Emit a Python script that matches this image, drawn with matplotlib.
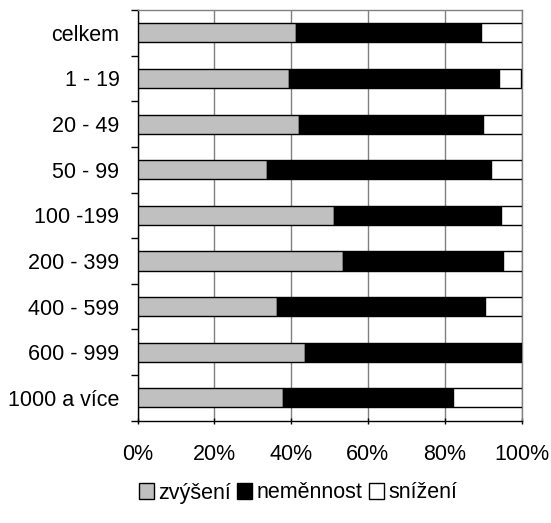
import matplotlib
matplotlib.use("Agg")
import matplotlib.pyplot as plt
import numpy as np

plt.rcParams['font.family'] = ['Liberation Sans', 'DejaVu Sans']

categories = ["celkem", "1 - 19", "20 - 49", "50 - 99", "100 -199", "200 - 399",
              "400 - 599", "600 - 999", "1000 a více"]
zvyseni = [41.4, 39.4, 42.0, 33.6, 51.3, 53.4, 36.3, 43.6, 37.8]
nemennost = [48.0, 54.8, 48.0, 58.4, 43.3, 41.7, 54.2, 56.4, 44.3]
snizeni = [10.6, 5.8, 10.0, 8.0, 5.4, 4.9, 9.5, 0.0, 17.9]
series_names = ["zvýšení", "neměnnost", "snížení"]
colors = ["#c0c0c0", "#000000", "#ffffff"]
xticks = [0, 20, 40, 60, 80, 100]
xticklabels = ["0%", "20%", "40%", "60%", "80%", "100%"]

FS = 15.5

fig = plt.figure(figsize=(5.51, 5.23), dpi=100)
W, H = 551, 523
ax = fig.add_axes([137.5 / W, 1 - 420.7 / H, (521.5 - 137.5) / W, (420.7 - 10) / H])

y = np.arange(len(categories))
left = np.zeros(len(categories))
for vals, name, c in zip([zvyseni, nemennost, snizeni], series_names, colors):
    vals = np.array(vals)
    ax.barh(y, vals, left=left, height=0.42, color=c, edgecolor="black",
            linewidth=1.0, label=name, zorder=3)
    left = left + vals

ax.set_xlim(0, 100)
ax.set_ylim(len(categories) - 0.5, -0.5)
ax.set_xticks(xticks)
ax.set_xticklabels(xticklabels, fontsize=FS)
ax.xaxis.grid(True, color="#808080", linewidth=1.0, zorder=0)
ax.set_axisbelow(True)

ax.set_yticks(y)
ax.set_yticklabels(categories, fontsize=FS)
ax.tick_params(axis="y", length=0, pad=13)
ax.set_yticks(np.arange(-0.5, len(categories), 1.0), minor=True)
ax.tick_params(axis="y", which="minor", length=5, direction="out", width=1)
ax.tick_params(axis="x", length=5, direction="inout", width=1, pad=14.5)

for s in ["top", "right"]:
    ax.spines[s].set_color("#808080")
    ax.spines[s].set_linewidth(1.0)
for s in ["left", "bottom"]:
    ax.spines[s].set_color("black")
    ax.spines[s].set_linewidth(1.0)

leg = fig.legend(loc="center", bbox_to_anchor=(298 / W, 1 - 493 / H), ncol=3,
                 frameon=False, fontsize=FS, handlelength=0.7, handleheight=0.7,
                 handletextpad=0.2, columnspacing=0.3)

fig.savefig("out.png", dpi=100)
